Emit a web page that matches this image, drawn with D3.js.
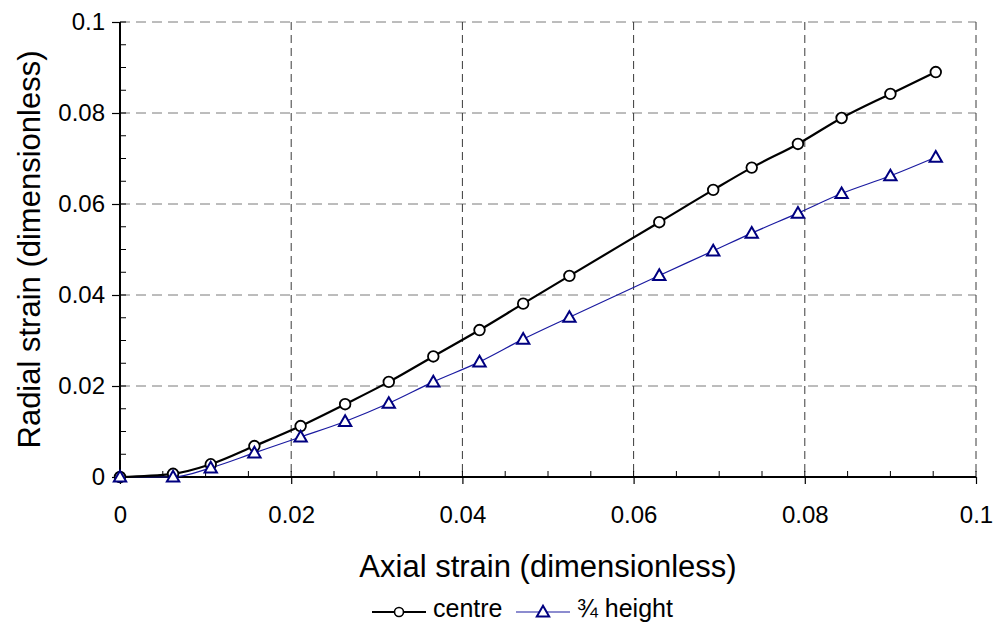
<!DOCTYPE html>
<html lang="en">

<head>
    <meta charset="UTF-8">
    <script src="https://d3js.org/d3.v7.min.js"></script>
    <title>Radial vs axial strain</title>
    <style>
        body { margin: 0; background: #fff; }
        text { font-family: "Liberation Sans", Arial, sans-serif; fill: #000; }
    </style>
</head>

<body>
    <div id="my_chart"></div>
    <script>
        // data
        var axialStrain = [0, 0.0062, 0.0106, 0.0157, 0.0211, 0.0263, 0.0314, 0.0366, 0.0420, 0.0471,
            0.0525, 0.0630, 0.0693, 0.0738, 0.0792, 0.0843, 0.0900, 0.0953];
        var centre = [0, 0.0007, 0.0028, 0.0068, 0.0112, 0.0160, 0.0209, 0.0265, 0.0323, 0.0381,
            0.0442, 0.0560, 0.0631, 0.0680, 0.0732, 0.0789, 0.0842, 0.0890];
        var threeQuarter = [0, 0, 0.0020, 0.0053, 0.0088, 0.0122, 0.0162, 0.0209, 0.0253, 0.0303,
            0.0351, 0.0443, 0.0497, 0.0536, 0.0580, 0.0623, 0.0662, 0.0703];
        var xTicks = [0, 0.02, 0.04, 0.06, 0.08, 0.1];
        var yTicks = [0, 0.02, 0.04, 0.06, 0.08, 0.1];
        var minorTicks = d3.range(0, 0.1001, 0.005);
        var seriesNames = ["centre", "\u00BE height"];

        var margin = { top: 22, right: 24, bottom: 148, left: 120 },
            width = 1000 - margin.left - margin.right,
            height = 625 - margin.top - margin.bottom;

        var root = d3.select("#my_chart")
            .append("svg")
            .attr("width", 1000)
            .attr("height", 625);

        var svg = root.append("g")
            .attr("transform", "translate(" + margin.left + "," + margin.top + ")");

        var x = d3.scaleLinear().domain([0, 0.1]).range([0, width]);
        var y = d3.scaleLinear().domain([0, 0.1]).range([height, 0]);
        var fmt = d3.format("~g");

        // grid
        svg.append("g").selectAll("line")
            .data(yTicks.slice(1))
            .enter().append("line")
            .attr("x1", 0).attr("x2", width)
            .attr("y1", d => y(d)).attr("y2", d => y(d))
            .attr("stroke", "#7a7a7a")
            .attr("stroke-dasharray", "10,6");
        svg.append("g").selectAll("line")
            .data(xTicks.slice(1))
            .enter().append("line")
            .attr("x1", d => x(d)).attr("x2", d => x(d))
            .attr("y1", 0).attr("y2", height)
            .attr("stroke", "#3a3a3a")
            .attr("stroke-dasharray", "8,5");

        // minor ticks (inside)
        svg.append("g").selectAll("line")
            .data(minorTicks)
            .enter().append("line")
            .attr("x1", d => x(d)).attr("x2", d => x(d))
            .attr("y1", height).attr("y2", height - 6)
            .attr("stroke", "#000");
        svg.append("g").selectAll("line")
            .data(minorTicks)
            .enter().append("line")
            .attr("x1", 0).attr("x2", 6)
            .attr("y1", d => y(d)).attr("y2", d => y(d))
            .attr("stroke", "#000");

        // axes
        var xAxis = svg.append("g")
            .attr("transform", "translate(0," + height + ")")
            .call(d3.axisBottom(x).tickValues(xTicks).tickFormat(fmt).tickSize(7).tickPadding(22));
        var yAxis = svg.append("g")
            .call(d3.axisLeft(y).tickValues(yTicks).tickFormat(fmt).tickSize(8).tickPadding(7));
        [xAxis, yAxis].forEach(function (a) {
            a.select(".domain").attr("stroke-width", 2).attr("stroke", "#000");
            a.selectAll(".tick line").attr("stroke", "#000").attr("stroke-width", 1.2);
            a.selectAll("text").attr("font-size", 24).attr("font-family", "Liberation Sans, Arial, sans-serif").attr("fill", "#000");
        });
        // domains without end caps
        yAxis.select(".domain").attr("d", "M0," + height + "V0");
        xAxis.select(".domain").attr("d", "M0,0H" + width);

        // series
        var line = d3.line()
            .x(d => x(d[0]))
            .y(d => y(d[1]))
            .curve(d3.curveMonotoneX);

        var centreData = axialStrain.map((v, i) => [v, centre[i]]);
        var quarterData = axialStrain.map((v, i) => [v, threeQuarter[i]]);

        svg.append("path")
            .datum(quarterData)
            .attr("d", line)
            .attr("fill", "none")
            .attr("stroke", "#1a1aa0")
            .attr("stroke-width", 1.2);
        svg.append("path")
            .datum(centreData)
            .attr("d", line)
            .attr("fill", "none")
            .attr("stroke", "#000")
            .attr("stroke-width", 2.2);

        var tri = d3.symbol().type(d3.symbolTriangle).size(66);

        svg.append("g").selectAll("circle")
            .data(centreData)
            .enter().append("circle")
            .attr("cx", d => x(d[0]))
            .attr("cy", d => y(d[1]))
            .attr("r", 5.3)
            .attr("fill", "#fff")
            .attr("stroke", "#000")
            .attr("stroke-width", 1.8);

        svg.append("g").selectAll("path")
            .data(quarterData)
            .enter().append("path")
            .attr("d", tri)
            .attr("transform", d => "translate(" + x(d[0]) + "," + (y(d[1]) + 1) + ")")
            .attr("fill", "#fff")
            .attr("stroke", "#000080")
            .attr("stroke-width", 2);

        // axis titles
        root.append("text")
            .attr("x", margin.left + width / 2)
            .attr("y", 577)
            .attr("font-size", 31)
            .attr("text-anchor", "middle")
            .text("Axial strain (dimensionless)");
        root.append("text")
            .attr("transform", "translate(40," + (margin.top + height / 2) + ") rotate(-90)")
            .attr("font-size", 31)
            .attr("text-anchor", "middle")
            .text("Radial strain (dimensionless)");

        // legend
        var lg = root.append("g").attr("transform", "translate(372,612)");
        lg.append("line").attr("x1", 0).attr("x2", 54).attr("y1", 0).attr("y2", 0)
            .attr("stroke", "#000").attr("stroke-width", 2);
        lg.append("circle").attr("cx", 27).attr("cy", 0).attr("r", 4.5)
            .attr("fill", "#fff").attr("stroke", "#000").attr("stroke-width", 1.6);
        lg.append("text").attr("x", 61).attr("y", 5).attr("font-size", 25).text(seriesNames[0]);
        lg.append("line").attr("x1", 144).attr("x2", 198).attr("y1", 0).attr("y2", 0)
            .attr("stroke", "#1a1aa0").attr("stroke-width", 1.2);
        lg.append("path").attr("d", tri).attr("transform", "translate(171,1)")
            .attr("fill", "#fff").attr("stroke", "#000080").attr("stroke-width", 2);
        lg.append("text").attr("x", 205).attr("y", 5).attr("font-size", 25).text(seriesNames[1]);
    </script>
</body>

</html>
